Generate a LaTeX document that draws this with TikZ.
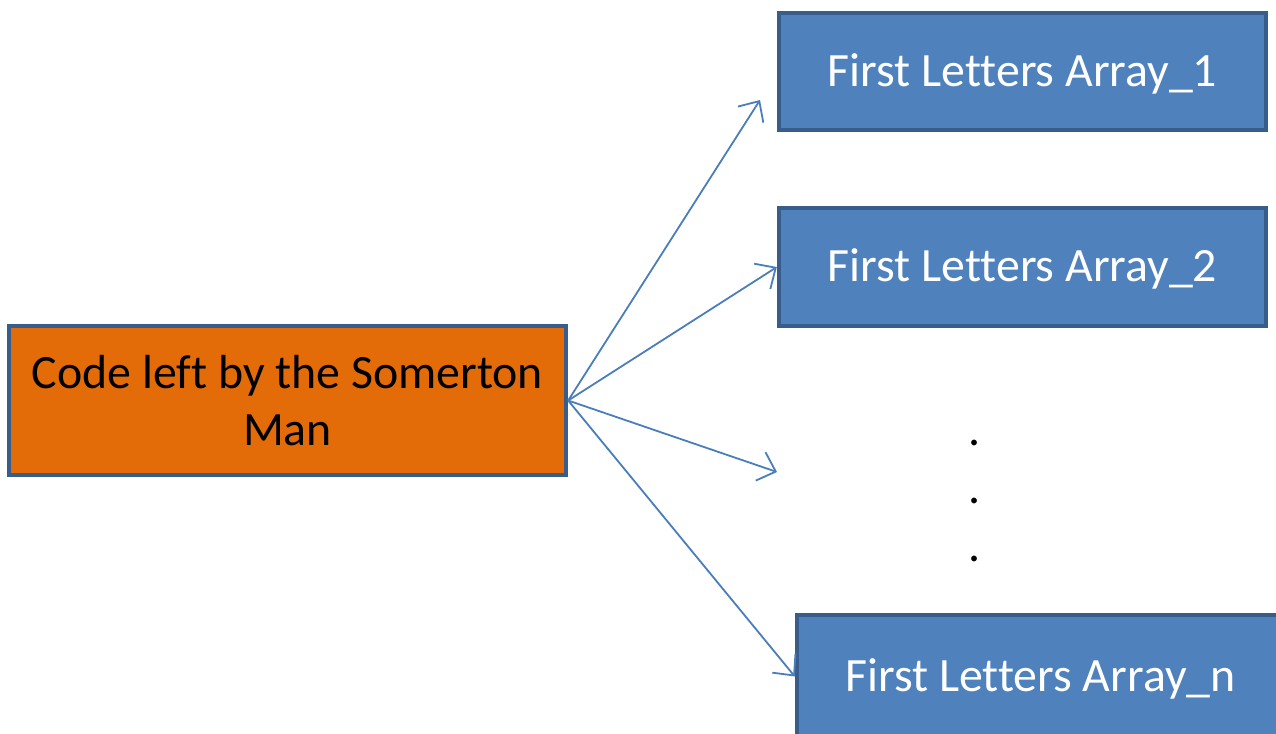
\documentclass[tikz,border=0pt]{standalone}
\usepackage{fontspec}
\setmainfont{Carlito}[Ligatures=NoCommon]
\usetikzlibrary{arrows.meta}
\definecolor{boxblue}{HTML}{4F81BD}
\definecolor{boxedge}{HTML}{385D8A}
\definecolor{boxorange}{HTML}{E36C09}
\definecolor{arrowblue}{HTML}{4A7EBB}
\tikzset{
  box/.style={draw=boxedge, line width=0.04cm, rectangle, inner sep=0pt,
    font=\fontsize{13.6}{16.2}\selectfont, align=center},
  bluebox/.style={box, fill=boxblue, text=white, minimum width=4.87cm,
    minimum height=1.17cm, text height=0.29cm, text depth=0cm},
  orangebox/.style={box, fill=boxorange, text=black, minimum width=5.57cm, minimum height=1.49cm},
  link/.style={draw=arrowblue, line width=0.018cm, -{Straight Barb[length=0.16cm,width=0.3cm]}},
  dotlabel/.style={font=\fontsize{13.6}{16.2}\selectfont, anchor=base, inner sep=0pt}
}
\begin{document}
\begin{tikzpicture}[x=0.01cm, y=-0.01cm]
\useasboundingbox (0,0) rectangle (1276,733);
\clip (0,0) rectangle (1276,733);
\node[orangebox] (src) at (287.5,400.5) {Code left by the Somerton\\Man};
\node[bluebox] (a1) at (1022.5,71.5) {First Letters Array\_1};
\node[bluebox] (a2) at (1022.5,267) {First Letters Array\_2};
\node[bluebox, minimum height=1.22cm] (an) at (1040.5,676.5) {First Letters Array\_n};
\node[dotlabel] (d1) at (975,445.5) {.};
\node[dotlabel] (d2) at (975,503.5) {.};
\node[dotlabel] (d3) at (975,561.5) {.};
\coordinate (t1) at (760,100);
\coordinate (t3) at (777,472);
\coordinate (s) at (src.east);
\draw[link] (s) -- (t1);
\draw[link] (s) -- (a2.west);
\draw[link] (s) -- (t3);
\draw[link] (s) -- (an.west);
\end{tikzpicture}
\end{document}
